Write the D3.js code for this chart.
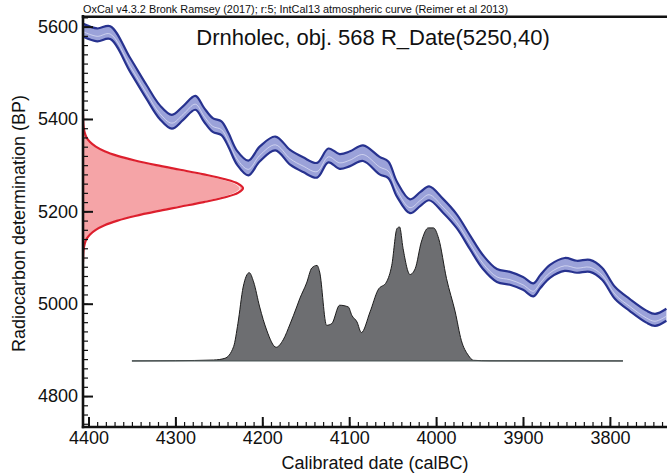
<!DOCTYPE html>
<html>
<head>
<meta charset="utf-8">
<script src="https://cdn.jsdelivr.net/npm/d3@7"></script>
<style>
  html, body { margin: 0; padding: 0; background: #fff; }
  svg { display: block; font-family: "Liberation Sans", Arial, sans-serif; }
</style>
</head>
<body>
<svg id="chart" width="667" height="475"></svg>
<script>
// ---------- DATA ----------
// IntCal13 curve (calBC -> BP mean, 1-sigma half width)
const curveBC = [4406, 4390, 4375, 4352, 4333, 4318, 4304, 4291, 4277, 4267,
                 4257, 4247, 4239, 4229, 4216, 4203, 4185, 4168, 4153, 4137,
                 4124, 4111, 4099, 4084, 4065, 4055, 4045, 4030, 4018, 4008,
                 3992, 3976, 3961, 3946, 3930, 3915, 3900, 3888, 3880, 3869,
                 3852, 3838, 3823, 3809, 3794, 3777, 3758, 3748, 3735];
const curveBP = [5592, 5582, 5587, 5517, 5458, 5415, 5394, 5413, 5435, 5409,
                 5387, 5380, 5355, 5316, 5294, 5324, 5347, 5317, 5301, 5289,
                 5321, 5308, 5314, 5326, 5299, 5290, 5248, 5211, 5227, 5239,
                 5212, 5178, 5133, 5090, 5061, 5055, 5044, 5030, 5048, 5070,
                 5085, 5080, 5082, 5065, 5023, 4997, 4972, 4965, 4976];
const curveSigma = [14, 14, 14, 15, 15, 15, 15, 15, 15, 15,
                    15, 15, 15, 15, 16, 16, 15, 16, 16, 16,
                    15, 16, 16, 17, 19, 18, 16, 15, 15, 15,
                    15, 15, 15, 15, 14, 14, 14, 14, 14, 14,
                    14, 13, 13, 13, 13, 13, 13, 13, 13];

// Radiocarbon date R_Date(5250,40): relative probability by BP
const dateBP = [5090, 5100, 5110, 5120, 5130, 5140, 5150, 5160, 5170, 5180, 5190,
                5200, 5210, 5220, 5230, 5240, 5250, 5260, 5270, 5280, 5290, 5300,
                5310, 5320, 5330, 5340, 5350, 5360, 5370, 5380, 5390, 5400, 5410];
const dateProb = [0, 0.001, 0.002, 0.005, 0.011, 0.022, 0.044, 0.080, 0.135, 0.216, 0.325,
                  0.458, 0.607, 0.755, 0.882, 0.969, 1.0, 0.969, 0.882, 0.755, 0.607, 0.458,
                  0.325, 0.216, 0.135, 0.080, 0.044, 0.022, 0.011, 0.005, 0.002, 0.001, 0];

// Calibrated distribution: relative probability by calBC
const calBC = [4350, 4300, 4256, 4243, 4233, 4228, 4222, 4215, 4210, 4203,
               4195, 4184, 4176, 4168, 4160, 4157, 4149, 4143, 4137, 4134,
               4126, 4120, 4111, 4101, 4097, 4091, 4086, 4076, 4067, 4057,
               4051, 4045, 4042, 4038, 4030, 4024, 4017, 4009, 4003, 3997,
               3988, 3978, 3971, 3963, 3957, 3938, 3785];
const calProb = [0, 0.002, 0.007, 0.02, 0.107, 0.281, 0.552, 0.659, 0.590, 0.403,
                 0.231, 0.102, 0.157, 0.276, 0.410, 0.463, 0.582, 0.694, 0.713, 0.664,
                 0.266, 0.279, 0.416, 0.403, 0.341, 0.291, 0.212, 0.366, 0.528, 0.590,
                 0.714, 0.988, 1.0, 0.839, 0.645, 0.690, 0.888, 0.993, 0.993, 0.913,
                 0.615, 0.366, 0.154, 0.043, 0.005, 0.001, 0];

// Ticks
const xMajorTicks = [4400, 4300, 4200, 4100, 4000, 3900, 3800];
const yMajorTicks = [4800, 5000, 5200, 5400, 5600];

const headerText = "OxCal v4.3.2 Bronk Ramsey (2017); r:5; IntCal13 atmospheric curve (Reimer et al 2013)";
const titleText = "Drnholec, obj. 568 R_Date(5250,40)";
const xTitle = "Calibrated date (calBC)";
const yTitle = "Radiocarbon determination (BP)";

// ---------- LAYOUT ----------
const L = 83, R = 667, T = 16, B = 427;
const svg = d3.select("#chart");

const x = d3.scaleLinear().domain([4406.3, 3734.3]).range([L, R]);
const y = d3.scaleLinear().domain([4733, 5623]).range([B, T]);
const rx = d3.scaleLinear().domain([0, 1]).range([L, 243]);
const rxInner = d3.scaleLinear().domain([0, 1]).range([L, 240]);
const base = y(4876);
const py = d3.scaleLinear().domain([0, 1]).range([base, base - 134]);

svg.append("defs").append("clipPath").attr("id", "plotClip")
  .append("rect").attr("x", L).attr("y", T).attr("width", R - L).attr("height", B - T);

const plot = svg.append("g").attr("clip-path", "url(#plotClip)");

// ---------- Calibrated distribution ----------
const calData = calBC.map((d, i) => ({ bc: d, p: calProb[i] }));
plot.append("path")
  .datum(calData)
  .attr("d", d3.area().x(d => x(d.bc)).y0(base).y1(d => py(d.p)).curve(d3.curveMonotoneX))
  .attr("fill", "#6d6e71");
plot.append("path")
  .datum(calData)
  .attr("d", d3.line().x(d => x(d.bc)).y(d => py(d.p)).curve(d3.curveMonotoneX))
  .attr("fill", "none").attr("stroke", "#1c1c1c").attr("stroke-width", 1);
plot.append("line")
  .attr("x1", x(calBC[0])).attr("x2", x(calBC[calBC.length - 1]))
  .attr("y1", base).attr("y2", base)
  .attr("stroke", "#4f5a5a").attr("stroke-width", 1.3);

// ---------- Radiocarbon date (on y axis) ----------
const dateData = dateBP.map((d, i) => ({ bp: d, p: dateProb[i] }));
plot.append("path")
  .datum(dateData)
  .attr("d", d3.area().y(d => y(d.bp)).x0(L).x1(d => rx(d.p)).curve(d3.curveCatmullRom))
  .attr("fill", "#f5a4a7");
plot.append("path")
  .datum(dateData)
  .attr("d", d3.line().y(d => y(d.bp)).x(d => rxInner(d.p)).curve(d3.curveCatmullRom))
  .attr("fill", "none").attr("stroke", "#fff").attr("stroke-width", 0.9).attr("opacity", 0.9);
plot.append("path")
  .datum(dateData)
  .attr("d", d3.line().y(d => y(d.bp)).x(d => rx(d.p)).curve(d3.curveCatmullRom))
  .attr("fill", "none").attr("stroke", "#dd1f2d").attr("stroke-width", 2.2);

// ---------- Calibration curve ----------
const cData = curveBC.map((d, i) => ({ bc: d, m: curveBP[i], s: curveSigma[i] }));
const cc = d3.curveCatmullRom.alpha(0.5);
plot.append("path")
  .datum(cData)
  .attr("d", d3.area().x(d => x(d.bc)).y0(d => y(d.m - d.s)).y1(d => y(d.m + d.s)).curve(cc))
  .attr("fill", "#9ba2d9");
plot.append("path")
  .datum(cData)
  .attr("d", d3.line().x(d => x(d.bc)).y(d => y(d.m - 3)).curve(cc))
  .attr("fill", "none").attr("stroke", "#eef0fb").attr("stroke-width", 0.8).attr("opacity", 0.75);
["+", "-"].forEach(sgn => {
  plot.append("path")
    .datum(cData)
    .attr("d", d3.line().x(d => x(d.bc)).y(d => y(sgn === "+" ? d.m + d.s : d.m - d.s)).curve(cc))
    .attr("fill", "none").attr("stroke", "#27328f").attr("stroke-width", 2.2);
});

// ---------- Axes ----------
const xMinor = d3.range(4400, 3733, -10);
const yMinor = d3.range(4740, 5621, 20);

const gxMinor = svg.append("g").attr("transform", `translate(0,${B})`)
  .call(d3.axisBottom(x).tickValues(xMinor).tickSizeInner(-5).tickSizeOuter(0).tickFormat(""));
gxMinor.select(".domain").remove();
gxMinor.selectAll("line").attr("stroke", "#111").attr("stroke-width", 1.2);

const gx = svg.append("g").attr("transform", `translate(0,${B})`)
  .call(d3.axisBottom(x).tickValues(xMajorTicks).tickSizeInner(-10).tickSizeOuter(0).tickPadding(4).tickFormat(d3.format("d")));
gx.select(".domain").remove();
gx.selectAll("line").attr("stroke", "#111").attr("stroke-width", 2);
gx.selectAll("text").attr("font-size", 18).attr("fill", "#111")
  .attr("font-family", "'Liberation Sans', Arial, sans-serif");

const gyMinor = svg.append("g").attr("transform", `translate(${L},0)`)
  .call(d3.axisLeft(y).tickValues(yMinor).tickSizeInner(-5).tickSizeOuter(0).tickFormat(""));
gyMinor.select(".domain").remove();
gyMinor.selectAll("line").attr("stroke", "#111").attr("stroke-width", 1.2);

const gy = svg.append("g").attr("transform", `translate(${L},0)`)
  .call(d3.axisLeft(y).tickValues(yMajorTicks).tickSizeInner(-10).tickSizeOuter(0).tickPadding(5).tickFormat(d3.format("d")));
gy.select(".domain").remove();
gy.selectAll("line").attr("stroke", "#111").attr("stroke-width", 2);
gy.selectAll("text").attr("font-size", 18).attr("fill", "#111")
  .attr("font-family", "'Liberation Sans', Arial, sans-serif");

// frame lines
svg.append("line").attr("x1", L).attr("x2", L).attr("y1", T - 1).attr("y2", B + 1.2)
  .attr("stroke", "#111").attr("stroke-width", 2.6);
svg.append("line").attr("x1", L - 1.2).attr("x2", R).attr("y1", B).attr("y2", B)
  .attr("stroke", "#111").attr("stroke-width", 2.6);
svg.append("line").attr("x1", L - 1.2).attr("x2", R).attr("y1", T + 0.8).attr("y2", T + 0.8)
  .attr("stroke", "#111").attr("stroke-width", 2.4);

// ---------- Texts ----------
svg.append("text").attr("x", L).attr("y", 13)
  .attr("font-family", "'Liberation Sans Narrow', 'Liberation Sans', Arial, sans-serif")
  .attr("font-size", 11.5).attr("fill", "#111")
  .attr("textLength", 425).attr("lengthAdjust", "spacingAndGlyphs")
  .text(headerText);

svg.append("text").attr("x", 373).attr("y", 45)
  .attr("text-anchor", "middle").attr("font-size", 22).attr("fill", "#111")
  .text(titleText);

svg.append("text").attr("x", (L + R) / 2).attr("y", 469)
  .attr("text-anchor", "middle").attr("font-size", 18).attr("fill", "#111")
  .text(xTitle);

svg.append("text")
  .attr("transform", `translate(25,223.5) rotate(-90)`)
  .attr("text-anchor", "middle").attr("font-size", 18).attr("fill", "#111")
  .text(yTitle);
</script>
</body>
</html>
